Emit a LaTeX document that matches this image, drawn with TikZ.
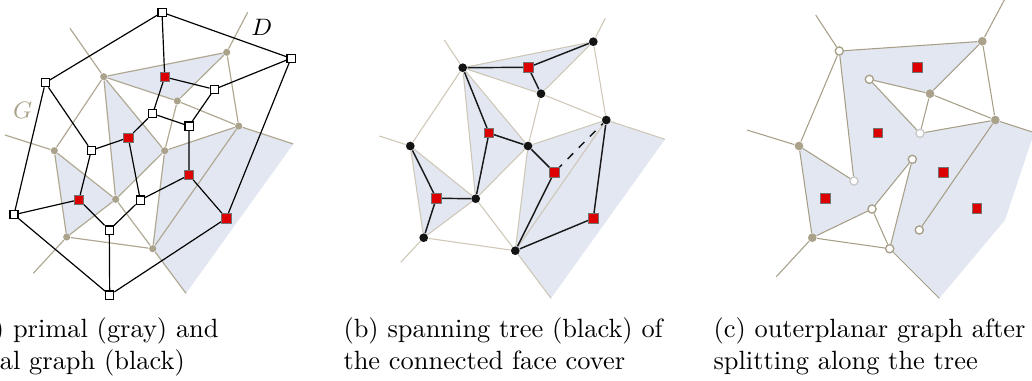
\documentclass[tikz,border=0pt]{standalone}
\usetikzlibrary{backgrounds}
\definecolor{faceshade}{RGB}{226,231,241}
\definecolor{tanline}{RGB}{176,168,146}
\definecolor{tanlight}{RGB}{206,199,182}
\definecolor{tandark}{RGB}{166,158,135}
\definecolor{tandot}{RGB}{170,162,138}
\definecolor{redsq}{RGB}{220,0,0}
\definecolor{lightring}{RGB}{200,200,200}
\begin{document}
\begin{tikzpicture}[x=0.3788pt,y=-0.3788pt,
  facefill/.style={fill=faceshade,draw=none},
  primA/.style={draw=tanline,line width=0.45pt},
  primB/.style={draw=tanlight,line width=0.4pt},
  primC/.style={draw=tandark,line width=0.4pt},
  dualedge/.style={draw=black,line width=0.45pt},
  treeedge/.style={draw=black!90,line width=0.55pt},
  gdotA/.style={circle,fill=tandot,inner sep=0pt,minimum size=2.7pt},
  gdotC/.style={circle,fill=tandot,inner sep=0pt,minimum size=3.3pt},
  bdot/.style={circle,fill=black!92,inner sep=0pt,minimum size=3.3pt},
  wring/.style={circle,draw=tandark,fill=white,line width=0.5pt,inner sep=0pt,minimum size=3.1pt},
  wringl/.style={circle,draw=lightring,fill=white,line width=0.5pt,inner sep=0pt,minimum size=3.1pt},
  wsq/.style={rectangle,draw=black,fill=white,line width=0.45pt,inner sep=0pt,minimum size=3.1pt},
  rsq/.style={rectangle,draw=black!55,fill=redsq,line width=0.25pt,inner sep=0pt,minimum size=3.5pt},
  caption/.style={anchor=north west,align=left,inner sep=0pt,font=\fontsize{10}{12}\selectfont},
  glabel/.style={font=\fontsize{9.5}{11}\selectfont,inner sep=0pt},
]
\useasboundingbox (0,0) rectangle (1032,380);

%% ---------------- panel (a) ----------------
\node[gdotA] (a1) at (226.7,52.3) {};
\node[gdotA] (a2) at (103.7,76.7) {};
\node[gdotA] (a3) at (177.3,101) {};
\node[gdotA] (a4) at (238.7,126) {};
\node[gdotA] (a5) at (54.3,150.7) {};
\node[gdotA] (a6) at (164.7,150.7) {};
\node[gdotA] (a7) at (115.7,199.3) {};
\node[gdotA] (a8) at (66.7,237) {};
\node[gdotA] (a9) at (152.7,248.7) {};
\coordinate (ar2) at (70,28.3);
\coordinate (ar1) at (247.7,12.3);
\coordinate (ar5) at (5,135);
\coordinate (ar8) at (33.3,273.3);
\coordinate (ar9) at (186,293.3);
\coordinate (ar4) at (293.3,144);

\node[rsq] (af1) at (164.7,77) {};
\node[rsq] (af2) at (128.3,137.7) {};
\node[rsq] (af3) at (189,175) {};
\node[rsq] (af4) at (79,199.7) {};
\node[rsq] (af5) at (226.3,218.3) {};

\node[wsq] (ad1) at (162,12.3) {};
\node[wsq] (ad2) at (291,58.3) {};
\node[wsq] (ad3) at (45.3,82.7) {};
\node[wsq] (ad4) at (214.3,89.3) {};
\node[wsq] (ad5) at (152.7,113.7) {};
\node[wsq] (ad6) at (189,126) {};
\node[wsq] (ad7) at (91.3,150.3) {};
\node[wsq] (ad8) at (140.3,200) {};
\node[wsq] (ad9) at (14,214.7) {};
\node[wsq] (ad10) at (109.3,230) {};
\node[wsq] (ad11) at (109.7,295) {};

\node[glabel,text=tandot] (labG) at (22.7,110) {$G$};
\node[glabel] (labD) at (261.7,27.3) {$D$};

\begin{scope}[on background layer]
  \fill[facefill] (a2.center) -- (a1.center) -- (a3.center) -- cycle;
  \fill[facefill] (a2.center) -- (a6.center) -- (a7.center) -- cycle;
  \fill[facefill] (a5.center) -- (a8.center) -- (a7.center) -- cycle;
  \fill[facefill] (a6.center) -- (a4.center) -- (a9.center) -- cycle;
  \fill[facefill] (a4.center) -- (ar4) -- (ar9) -- (a9.center) -- cycle;
  \draw[primA] (a2)--(a1) (a2)--(a3) (a1)--(a3) (a2)--(a5) (a2)--(a7) (a2)--(a6)
    (a1)--(a4) (a3)--(a4) (a3)--(a6) (a4)--(a6) (a4)--(a9) (a5)--(a7) (a5)--(a8)
    (a7)--(a8) (a7)--(a6) (a7)--(a9) (a6)--(a9) (a8)--(a9)
    (a2)--(ar2) (a1)--(ar1) (a5)--(ar5) (a8)--(ar8) (a9)--(ar9) (a4)--(ar4);
  \draw[dualedge] (ad1)--(ad3) (ad1)--(ad2) (ad1)--(af1) (ad2)--(ad4) (ad2)--(af5)
    (ad3)--(ad9) (ad3)--(ad7) (af1)--(ad4) (af1)--(ad5) (ad4)--(ad6)
    (ad5)--(ad6) (ad5)--(af2) (ad6)--(af3) (af2)--(ad7) (af2)--(ad8)
    (ad7)--(af4) (af3)--(ad8) (af3)--(af5) (af4)--(ad9) (af4)--(ad10)
    (ad8)--(ad10) (ad10)--(ad11) (ad9)--(ad11) (af5)--(ad11);
\end{scope}

\node[caption] (capa) at (-30,317.5) {(a) primal (gray) and\\dual graph (black)};

%% ---------------- panel (b) ----------------
\node[bdot] (b1) at (593.3,41.7) {};
\node[bdot] (b2) at (462.7,67.7) {};
\node[bdot] (b3) at (541,93.7) {};
\node[bdot] (b4) at (606.3,120) {};
\node[bdot] (b5) at (410.3,146) {};
\node[bdot] (b6) at (528,146) {};
\node[bdot] (b7) at (475.7,198.7) {};
\node[bdot] (b8) at (423.7,237.7) {};
\node[bdot] (b9) at (515.3,250.7) {};
\coordinate (br2) at (444.3,40);
\coordinate (br1) at (605.3,18.3);
\coordinate (br5) at (379.3,136);
\coordinate (br8) at (400.7,262.3);
\coordinate (br9) at (551,298.3);
\coordinate (br4) at (665,139.3);

\node[rsq] (bf1) at (528.3,67.3) {};
\node[rsq] (bf2) at (489,133) {};
\node[rsq] (bf3) at (554.3,172.3) {};
\node[rsq] (bf4) at (436.3,198.3) {};
\node[rsq] (bf5) at (593.3,218.3) {};

\begin{scope}[on background layer]
  \fill[facefill] (b2.center) -- (b1.center) -- (b3.center) -- cycle;
  \fill[facefill] (b2.center) -- (b6.center) -- (b7.center) -- cycle;
  \fill[facefill] (b5.center) -- (b8.center) -- (b7.center) -- cycle;
  \fill[facefill] (b6.center) -- (b4.center) -- (b9.center) -- cycle;
  \fill[facefill] (b4.center) -- (br4) -- (br9) -- (b9.center) -- cycle;
  \draw[primB] (b2)--(b1) (b2)--(b3) (b1)--(b3) (b2)--(b5) (b2)--(b7) (b2)--(b6)
    (b1)--(b4) (b3)--(b4) (b3)--(b6) (b4)--(b6) (b4)--(b9) (b5)--(b7) (b5)--(b8)
    (b7)--(b8) (b7)--(b6) (b7)--(b9) (b6)--(b9) (b8)--(b9)
    (b2)--(br2) (b1)--(br1) (b5)--(br5) (b8)--(br8) (b9)--(br9) (b4)--(br4);
  \draw[treeedge] (b2)--(bf1) (bf1)--(b1) (bf1)--(b3)
    (b2)--(bf2) (bf2)--(b7) (bf2)--(b6)
    (b5)--(bf4) (bf4)--(b8) (bf4)--(b7)
    (b6)--(bf3) (bf3)--(b9)
    (b9)--(bf5) (bf5)--(b4);
  \draw[treeedge,dash pattern=on 3pt off 3pt,dash phase=1.5pt] (bf3)--(b4);
\end{scope}

\node[caption] (capb) at (343,317.5) {(b) spanning tree (black) of\\the connected face cover};

%% ---------------- panel (c) ----------------
\node[gdotC] (c1) at (982.3,41.3) {};
\node[gdotC] (c3) at (930,93.7) {};
\node[gdotC] (c4) at (995.3,120) {};
\node[gdotC] (c5) at (799,146) {};
\node[gdotC] (c8) at (812.3,237.7) {};
\node[wring] (w1) at (839.3,51) {};
\node[wring] (w2) at (869.3,79.3) {};
\node[wringl] (w3) at (920,133.3) {};
\node[wringl] (w4) at (854,181) {};
\node[wring] (w5) at (912.3,159.3) {};
\node[wring] (w6) at (872,209) {};
\node[wring] (w7) at (889.7,248.7) {};
\node[wring] (w8) at (919.3,230) {};
\coordinate (cr1) at (815.7,15);
\coordinate (cr2) at (1004.3,0);
\coordinate (cr3) at (1054,139);
\coordinate (cr4) at (747,130);
\coordinate (cr5) at (776.3,276.7);
\coordinate (cr6) at (939.3,298.3);
\coordinate (ck1) at (1034,133);
\coordinate (ck2) at (1005,220);

\node[rsq] (cf1) at (917.3,67.3) {};
\node[rsq] (cf2) at (877.7,133) {};
\node[rsq] (cf3) at (943.3,172.3) {};
\node[rsq] (cf4) at (825.3,198.3) {};
\node[rsq] (cf5) at (976.7,208.3) {};

\begin{scope}[on background layer]
  \fill[facefill] (w1.center) -- (c1.center) -- (c3.center) -- (w2.center) -- (w3.center)
    -- (c4.center) -- (ck1) -- (ck2) -- (cr6) -- (w7.center) -- (w5.center) -- (w6.center)
    -- (c8.center) -- (c5.center) -- (w4.center) -- cycle;
  \draw[primC] (w1)--(cr1) (w1)--(c1) (c1)--(cr2) (c1)--(c3) (c1)--(c4)
    (w2)--(c3) (w2)--(w3) (c3)--(w3) (c3)--(c4) (w3)--(c4) (c4)--(cr3)
    (w1)--(w4) (w1)--(c5) (c5)--(cr4) (c5)--(w4) (c5)--(c8)
    (c8)--(cr5) (c8)--(w6) (c8)--(w7) (w6)--(w5) (w6)--(w7) (w5)--(w7)
    (w7)--(cr6) (c4)--(w8);
\end{scope}

\node[caption] (capc) at (713,317.5) {(c) outerplanar graph after\\splitting along the tree};
\end{tikzpicture}
\end{document}
